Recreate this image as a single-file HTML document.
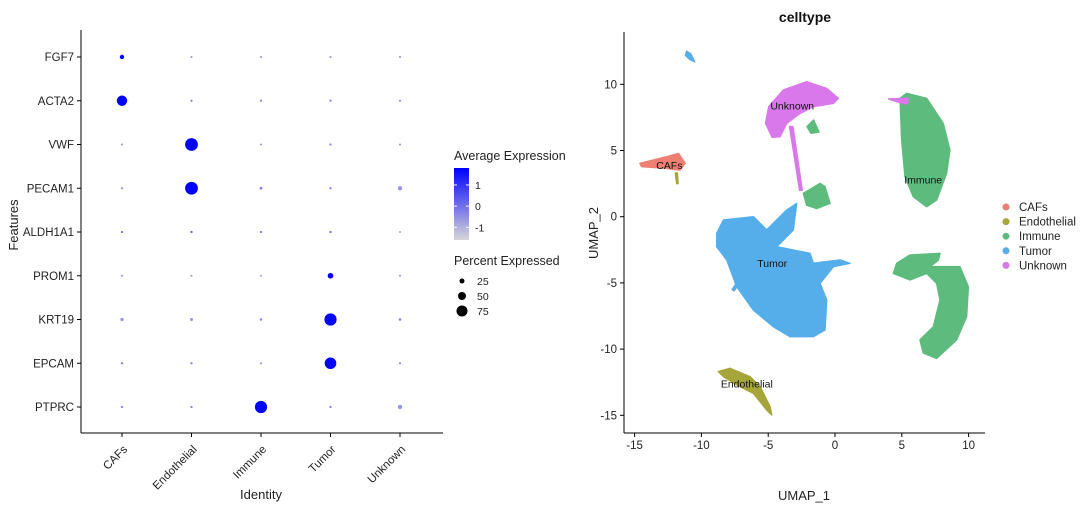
<!DOCTYPE html>
<html><head><meta charset="utf-8"><style>
body{margin:0;background:#fff;}
svg text{font-family:"Liberation Sans",sans-serif;}
</style></head><body>
<svg id="c" width="1080" height="506" xmlns="http://www.w3.org/2000/svg"></svg>
<script>
const genes=["FGF7","ACTA2","VWF","PECAM1","ALDH1A1","PROM1","KRT19","EPCAM","PTPRC"];
const idents=["CAFs","Endothelial","Immune","Tumor","Unknown"];
const pctExpr=[
[20,1,1,1,1],[70,2,2,2,1],[1,90,1,2,1],[2,90,6,3,20],[3,3,2,3,0.5],[1,1,1,30,1],[10,8,4,85,5],[3,3,1,80,2],[3,3,85,3,20]];
const avgExpr=[
[2,-0.5,-0.5,-0.5,-0.5],[2,-0.3,-0.4,-0.3,-0.4],[-0.6,2,-0.6,-0.3,-0.6],[-0.6,2,-0.2,-0.3,-0.6],[0,0.2,-0.2,0,-0.8],[-0.6,-0.6,-0.8,2,-0.6],[-0.5,-0.5,-0.3,2,-0.3],[-0.3,-0.3,-0.5,2,-0.5],[-0.3,-0.3,2,-0.3,-0.6]];
const colorTicks=[1,0,-1];
const sizeTicks=[25,50,75];
const umapXTicks=[-15,-10,-5,0,5,10];
const umapYTicks=[10,5,0,-5,-10,-15];
const clusterNames=["CAFs","Endothelial","Immune","Tumor","Unknown"];
const clusterColors=["#EE7F73","#A5A53A","#5DBB7E","#55AEEA","#D878EA"];
const polyCAFs=[[[-14.6,4.03],[-12.6,4.53],[-11.72,4.78],[-11.22,4.03],[-11.6,3.52],[-12.6,3.65],[-14.47,3.78]]];
const polyEndo=[[[-8.73,-11.7],[-7.86,-11.45],[-6.36,-12.08],[-5.61,-12.84],[-4.86,-14.35],[-4.74,-14.98],[-5.11,-14.6],[-6.11,-13.34],[-7.11,-12.84],[-8.35,-12.08]],[[-11.95,3.3],[-11.8,3.3],[-11.75,2.5],[-11.85,2.5]]];
const polyImmune=[[[4.87,8.94],[5.36,9.32],[6.86,8.94],[8.1,7.05],[8.6,5.03],[8.35,3.27],[7.61,1.26],[6.86,0.75],[5.86,1.51],[5.24,3.02],[4.99,5.79]],
[[4.62,-3.52],[5.61,-2.89],[7.86,-2.77],[7.74,-3.27],[7.11,-3.77],[9.35,-3.77],[9.98,-5.28],[9.85,-7.55],[9.1,-9.31],[7.61,-10.7],[6.61,-10.3],[6.36,-9.31],[7.36,-8.31],[7.86,-6.29],[7.61,-5.03],[6.86,-4.28],[5.61,-4.78],[4.37,-4.28]],
[[-2.37,1.76],[-1.12,2.52],[-0.75,2.27],[-0.37,1.01],[-1.37,0.62],[-2.12,0.87]],
[[-2.1,6.8],[-1.6,7.3],[-1.2,6.4],[-1.8,6.3]]];
const polyTumor=[[[-8.85,-1.25],[-8.35,-0.25],[-6.11,0],[-5.11,-1.0],[-3.62,0.5],[-2.87,1.0],[-3.12,-1.0],[-4.36,-2.27],[-1.87,-2.77],[-1.62,-3.52],[0.37,-3.27],[1.12,-3.52],[-0.12,-3.77],[-1.12,-5.03],[-0.62,-6.29],[-0.75,-8.56],[-1.62,-9.06],[-3.37,-9.06],[-4.61,-8.31],[-6.11,-7.05],[-7.36,-5.28],[-8.1,-3.27],[-8.85,-2.27]],
[[-11.1,12.5],[-10.8,12.3],[-10.5,11.7],[-10.9,11.9],[-11.2,12.2]],
[[-7.7,-5.5],[-7.3,-4.9],[-7.15,-5.0],[-7.55,-5.6]]];
const polyUnknown=[[[-5.2,7.05],[-4.96,8.31],[-3.86,9.57],[-2.12,10.2],[-0.62,9.69],[0.25,8.94],[-0.12,8.56],[-1.62,8.31],[-2.62,7.8],[-3.62,7.05],[-4.11,6.04],[-4.7,6.0]],
[[4.0,8.9],[5.5,8.95],[5.4,8.5],[4.6,8.7]],
[[-3.4,6.8],[-3.15,6.8],[-2.45,2.0],[-2.65,2.0]]];
const clusterPolys=[polyCAFs,polyEndo,polyImmune,polyTumor,polyUnknown];
const labelPos=[[-12.4,3.9],[-6.6,-12.6],[6.6,2.8],[-4.7,-3.5],[-3.2,8.4]];

const svg=document.getElementById('c');
const NS="http://www.w3.org/2000/svg";
function mk(tag,attrs,parent){const e=document.createElementNS(NS,tag);for(const k in attrs)e.setAttribute(k,attrs[k]);(parent||svg).appendChild(e);return e;}
function txt(s,attrs,parent){const e=mk('text',attrs,parent);e.textContent=s;return e;}

// ---------- dot plot ----------
const dp=mk('g',{});


const dX=i=>122+i*69.5;
const dY=j=>57+j*43.75;
const rS=p=>1+p/100*6;
function col(v){let t=(v+1.6)/3.4;t=Math.max(0,Math.min(1,t));
 const r=Math.round(214+(0-214)*t),g=Math.round(214+(0-214)*t),b=Math.round(214+(255-214)*t);return `rgb(${r},${g},${b})`;}
mk('line',{x1:81,y1:30,x2:81,y2:433,stroke:'#000','stroke-width':1},dp);
mk('line',{x1:81,y1:433,x2:443,y2:433,stroke:'#000','stroke-width':1},dp);
genes.forEach((g,j)=>{
 mk('line',{x1:77,y1:dY(j),x2:81,y2:dY(j),stroke:'#000'},dp);
 const t=txt(g,{x:74,y:dY(j)+4,'text-anchor':'end','font-size':11.5,fill:'#222'},dp);
 
 
});
idents.forEach((c,i)=>{
 mk('line',{x1:dX(i),y1:433,x2:dX(i),y2:437,stroke:'#000'},dp);
 const t=txt(c,{x:dX(i)+6,y:450,'text-anchor':'end','font-size':11.5,fill:'#222',transform:`rotate(-45 ${dX(i)+6} 450)`},dp);
 
 
});
genes.forEach((g,j)=>idents.forEach((c,i)=>{
 const d=mk('circle',{cx:dX(i),cy:dY(j),r:rS(pctExpr[j][i]),fill:col(avgExpr[j][i])},dp);
 
 
}));
let t1=txt('Identity',{x:261,y:499,'text-anchor':'middle','font-size':13,fill:'#222'},dp);


let t2=txt('Features',{x:18,y:225,'text-anchor':'middle','font-size':13,fill:'#222',transform:'rotate(-90 18 225)'},dp);


const lg=mk('g',{},dp);


txt('Average Expression',{x:454,y:160,'font-size':12.5,fill:'#222'},lg);
const defs=mk('defs',{});
const gr=mk('linearGradient',{id:'cg',x1:0,y1:1,x2:0,y2:0},defs);
mk('stop',{offset:'0','stop-color':col(-1.6)},gr);mk('stop',{offset:'1','stop-color':col(1.8)},gr);
mk('rect',{x:454,y:168,width:15,height:72,fill:'url(#cg)'},lg);
const cbY=v=>240-(v+1.6)/3.4*72;
colorTicks.forEach(v=>{mk('line',{x1:454,x2:457,y1:cbY(v),y2:cbY(v),stroke:'#fff'},lg);mk('line',{x1:466,x2:469,y1:cbY(v),y2:cbY(v),stroke:'#fff'},lg);
 txt(String(v),{x:475,y:cbY(v)+4,'font-size':10.5,fill:'#222'},lg);});
txt('Percent Expressed',{x:454,y:265,'font-size':12.5,fill:'#222'},lg);
sizeTicks.forEach((p,k)=>{mk('circle',{cx:462,cy:281+k*15,r:rS(p),fill:'#000'},lg);
 txt(String(p),{x:477,y:285+k*15,'font-size':10.5,fill:'#222'},lg);});

// ---------- UMAP ----------
const um=mk('g',{});


const uX=v=>835+v*13.36;
const uY=v=>216.7-v*13.24;
clusterPolys.forEach((polys,k)=>polys.forEach(pl=>{
 const p=mk('polygon',{points:pl.map(q=>uX(q[0])+','+uY(q[1])).join(' '),fill:clusterColors[k],stroke:clusterColors[k],'stroke-width':1.5,'stroke-linejoin':'round'},um);
 
 
}));
clusterNames.forEach((n,k)=>{
 const t=txt(n,{x:uX(labelPos[k][0]),y:uY(labelPos[k][1])+4,'text-anchor':'middle','font-size':10.5,fill:'#111'},um);
 
 
});
mk('line',{x1:624,y1:32,x2:624,y2:433,stroke:'#000'},um);
mk('line',{x1:624,y1:433,x2:985,y2:433,stroke:'#000'},um);
umapXTicks.forEach(v=>{mk('line',{x1:uX(v),x2:uX(v),y1:433,y2:437,stroke:'#000'},um);
 txt(String(v),{x:uX(v),y:449,'text-anchor':'middle','font-size':11.5,fill:'#222'},um);});
umapYTicks.forEach(v=>{mk('line',{x1:620,x2:624,y1:uY(v),y2:uY(v),stroke:'#000'},um);
 txt(String(v),{x:617,y:uY(v)+4,'text-anchor':'end','font-size':11.5,fill:'#222'},um);});
let t3=txt('UMAP_1',{x:804,y:500,'text-anchor':'middle','font-size':13,fill:'#222'},um);


let t4=txt('UMAP_2',{x:598,y:233,'text-anchor':'middle','font-size':13,fill:'#222',transform:'rotate(-90 598 233)'},um);


let t5=txt('celltype',{x:805,y:22,'text-anchor':'middle','font-size':14,'font-weight':'bold',fill:'#111'},um);


clusterNames.forEach((n,k)=>{
 const g=mk('g',{},um);
 
 
 mk('circle',{cx:1006,cy:207+k*14.6,r:3.5,fill:clusterColors[k]},g);
 txt(n,{x:1019,y:211+k*14.6,'font-size':11.5,fill:'#222'},g);
});
</script>
</body></html>
